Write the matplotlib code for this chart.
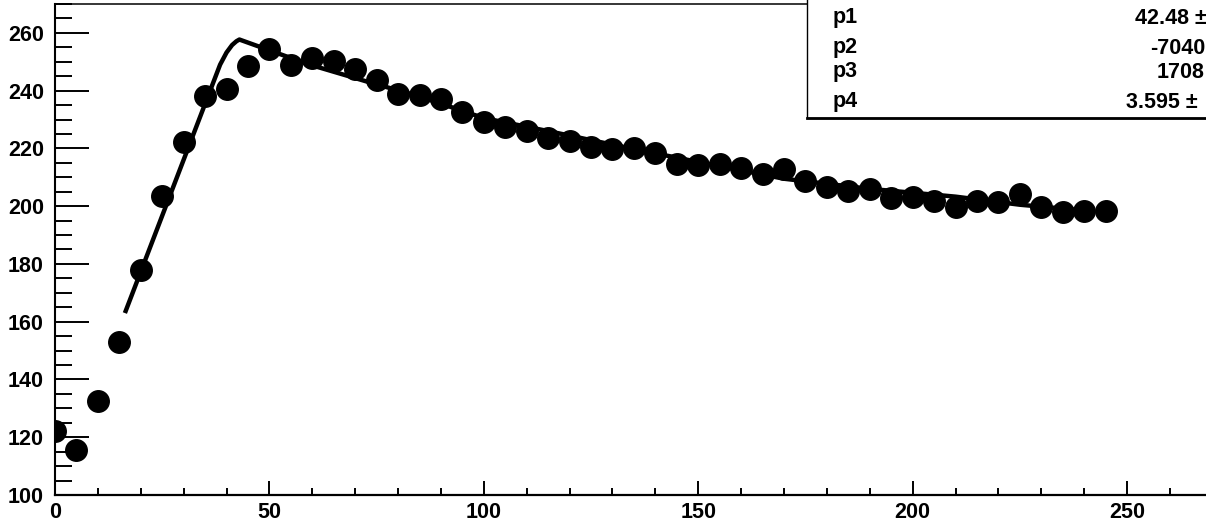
import matplotlib
matplotlib.use("Agg")
import matplotlib.pyplot as plt
from matplotlib.patches import Rectangle
from matplotlib.lines import Line2D
from matplotlib.ticker import MultipleLocator

# ---- data ----
x_vals = [0, 5, 10, 15, 20, 25, 30, 35, 40, 45, 50, 55, 60, 65, 70, 75, 80, 85, 90, 95,
          100, 105, 110, 115, 120, 125, 130, 135, 140, 145, 150, 155, 160, 165, 170, 175,
          180, 185, 190, 195, 200, 205, 210, 215, 220, 225, 230, 235, 240, 245]
y_vals = [122.2, 115.6, 132.5, 152.9, 177.9, 203.5, 222.3, 238.1, 240.5, 248.7,
          254.3, 249.0, 251.2, 250.2, 247.4, 243.6, 238.8, 238.5, 237.0, 232.7,
          229.2, 227.5, 226.1, 223.5, 222.6, 220.6, 219.8, 220.0, 218.3, 214.6,
          214.2, 214.7, 213.1, 211.0, 212.7, 208.7, 206.5, 205.3, 205.8, 202.7,
          203.3, 201.8, 199.6, 201.8, 201.5, 204.2, 199.6, 198.1, 198.4, 198.3]

# fit curve (knots)
fit_x = [16.3, 38.5, 40.0, 41.3, 42.3, 43.0, 47.5, 55, 61, 72.6, 85, 100, 115, 130, 150,
         170, 190, 210, 225, 240]
fit_y = [163.0, 249.0, 253.2, 255.8, 257.1, 257.7, 255.3, 251.3, 248.3, 243.2, 238.0,
         230.5, 226.0, 221.3, 215.3, 209.5, 206.0, 203.3, 200.5, 198.5]

stat_labels = ["p1", "p2", "p3", "p4"]
stat_values = ["42.48 \u00b1", "-7040", "1708", "3.595 \u00b1"]

x_major, x_minor = 50, 10
y_major, y_minor = 20, 5
xlim = (0, 268.4)
ylim = (100, 270)

# ---- figure ----
W, H = 1206, 524
fig = plt.figure(figsize=(W / 100, H / 100), dpi=100)
fig.patch.set_facecolor("white")

font = "Liberation Sans"
ax_left, ax_bottom_px, ax_top_px = 55, 495, 4
ax = fig.add_axes([ax_left / W, (H - ax_bottom_px) / H,
                   1 - ax_left / W, (ax_bottom_px - ax_top_px) / H])

ax.plot(x_vals, y_vals, "o", color="black", markersize=15.5, zorder=3)
ax.plot(fit_x, fit_y, "-", color="black", lw=3.2, zorder=4,
        solid_joinstyle="round", solid_capstyle="butt")

ax.set_xlim(*xlim)
ax.set_ylim(*ylim)

ax.xaxis.set_major_locator(MultipleLocator(x_major))
ax.xaxis.set_minor_locator(MultipleLocator(x_minor))
ax.yaxis.set_major_locator(MultipleLocator(y_major))
ax.yaxis.set_minor_locator(MultipleLocator(y_minor))

ax.tick_params(axis="x", which="major", direction="in", length=10.3, width=1.4, pad=5.0)
ax.tick_params(axis="x", which="minor", direction="in", length=5.2, width=1.4)
ax.tick_params(axis="y", which="major", direction="in", length=24.5, width=1.4, pad=8.0)
ax.tick_params(axis="y", which="minor", direction="in", length=12.2, width=1.4)

for lab in ax.get_xticklabels() + ax.get_yticklabels():
    lab.set_fontfamily(font)
    lab.set_fontweight("bold")
    lab.set_fontsize(15.5)

ax.spines["right"].set_visible(False)
ax.spines["left"].set_linewidth(1.5)
ax.spines["bottom"].set_linewidth(1.6)
ax.spines["top"].set_linewidth(1.1)

# ---- statistics box (top right, extends beyond canvas) ----
bx = 806.7 / W
by = (H - 117.5) / H
rect = Rectangle((bx, by), 1.2, 1.0, transform=fig.transFigure,
                 facecolor="white", edgecolor="black", lw=1.0, zorder=10)
fig.patches.append(rect)
fig.lines.append(Line2D([bx, 1.0], [by, by], transform=fig.transFigure,
                        color="black", lw=2.0, zorder=11))

row_baselines = [23.5, 53.5, 77.5, 107.5]
value_x = [1135, 1150.5, 1156.5, 1126.5]
for lab, val, yb, vx in zip(stat_labels, stat_values, row_baselines, value_x):
    fig.text(833 / W, (H - yb) / H, lab, fontsize=15.5, fontweight="bold",
             family=font, ha="left", va="baseline", zorder=12)
    fig.text(vx / W, (H - yb) / H, val, fontsize=15.5, fontweight="bold",
             family=[font, "DejaVu Sans"], ha="left", va="baseline", zorder=12)

fig.savefig("out.png", dpi=100)
